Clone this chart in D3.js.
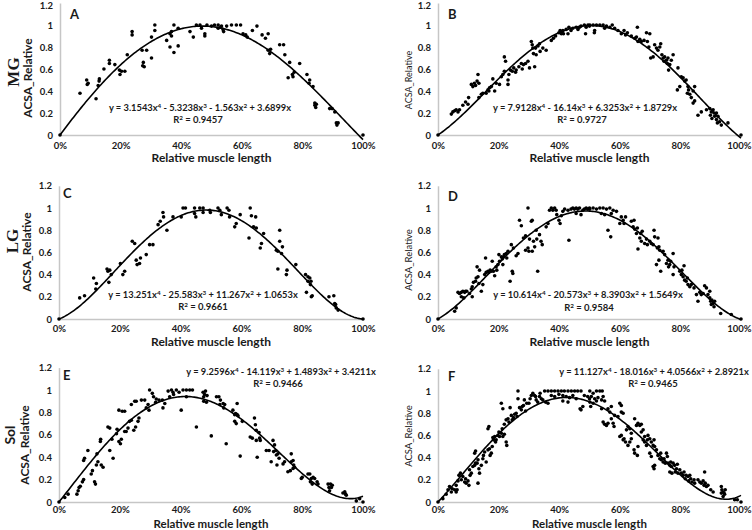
<!DOCTYPE html>
<html><head><meta charset="utf-8">
<script src="https://cdn.jsdelivr.net/npm/d3@7"></script>
<style>body{margin:0;background:#fff} text{white-space:pre}</style>
</head><body><svg id="c" width="752" height="530"></svg>
<script>
const xTicks=[0,20,40,60,80,100];
const yTicks=[0,0.2,0.4,0.6,0.8,1,1.2];
const panelLetters=["A","B","C","D","E","F"];
const rowLabels=["MG","LG","Sol"];
const xTitle="Relative muscle length";
const yTitle="ACSA_Relative";
const coefA=[3.1543,-5.3238,-1.563,3.6899];
const coefB=[7.9128,-16.14,6.3253,1.8729];
const coefC=[13.251,-25.583,11.267,1.0653];
const coefD=[10.614,-20.573,8.3903,1.5649];
const coefE=[9.2596,-14.119,1.4893,3.4211];
const coefF=[11.127,-18.016,4.0566,2.8921];
const r2Values=[0.9457,0.9727,0.9661,0.9584,0.9466,0.9465];

const pointsA=[[0,0],[6.6,0.38],[8.8,0.50],[9,0.46],[9.3,0.47],[11.9,0.33],[12.6,0.45],[12.9,0.49],[13,0.51],[14.5,0.60],[16.3,0.68],[16.3,0.65],[18.1,0.64],[19.6,0.59],[19.8,0.55],[20.3,0.58],[21.4,0.58],[22.2,0.73],[23.8,0.94],[23.8,0.91],[27.1,0.77],[27.5,0.66],[27.3,0.63],[27.8,0.62],[28.6,0.77],[30.2,0.89],[30.2,0.70],[31.3,1.0],[31.3,0.95],[35.2,0.86],[36.3,0.92],[36.3,0.80],[36.8,0.94],[36.8,0.90],[37.6,1.0],[37.6,0.75],[39,0.97],[39,0.81],[42.9,0.94],[44,0.89],[45,1.0],[46.2,1.0],[46.7,0.97],[47.8,0.92],[47.8,0.90],[48.5,1.0],[50,0.99],[51,1.0],[52.2,1.0],[52.2,0.97],[53,0.98],[53.3,0.99],[53.8,0.96],[54,0.94],[55,0.99],[56.6,1.0],[58.2,1.0],[59.6,1.0],[60.4,0.92],[61.3,0.91],[61.8,0.89],[63.5,0.95],[65,0.99],[66.7,0.91],[67.8,0.88],[68.7,0.92],[68.7,0.77],[69.2,0.74],[69.5,0.78],[72.5,0.82],[73.8,0.82],[74.2,0.73],[75.8,0.66],[75.3,0.52],[76.7,0.55],[76.9,0.53],[77.3,0.57],[79.1,0.65],[81.5,0.55],[82.4,0.50],[82.2,0.47],[83.5,0.44],[84.1,0.29],[84.1,0.27],[84.4,0.25],[84.6,0.28],[89,0.24],[89.8,0.24],[90.7,0.21],[91.2,0.11],[91.4,0.09],[91.8,0.11],[100,0]];

const pointsB=[[0,0],[4.4,0.19],[4.9,0.21],[5.5,0.22],[6,0.23],[6.6,0.21],[7.1,0.23],[8.2,0.27],[9.1,0.30],[9.9,0.28],[10.1,0.34],[11,0.46],[11.5,0.44],[12,0.47],[12.4,0.45],[12.9,0.49],[13.2,0.55],[13.5,0.47],[13.5,0.34],[14.3,0.37],[14.8,0.38],[15.9,0.38],[16.5,0.41],[16.8,0.40],[17,0.43],[17.6,0.44],[18.1,0.51],[18.7,0.40],[19.2,0.47],[20.3,0.46],[20.9,0.53],[21.4,0.55],[21.9,0.58],[21.9,0.71],[22.3,0.67],[23.1,0.46],[23.1,0.50],[23.4,0.55],[23.9,0.59],[24.5,0.58],[25,0.61],[25.6,0.57],[25.8,0.59],[26.7,0.62],[27.5,0.65],[27.8,0.60],[28.2,0.64],[28.9,0.65],[29.7,0.67],[30.2,0.61],[30.8,0.85],[31.1,0.82],[31.3,0.79],[31.5,0.74],[32.2,0.79],[32.4,0.73],[31.9,0.62],[33,0.81],[33.5,0.83],[33.7,0.76],[34.6,0.79],[35.7,0.77],[37.4,0.86],[38.1,0.88],[38.8,0.90],[39.9,0.93],[40.3,0.95],[40.7,0.92],[41,0.94],[41.2,0.95],[41.4,0.92],[42.3,0.96],[42.9,0.92],[43.2,0.98],[43.9,0.95],[44.5,0.97],[45.6,0.98],[46.2,0.96],[46.7,0.98],[47.2,0.99],[48.3,1.0],[48.7,0.92],[48.9,0.98],[49.5,1.0],[50,0.99],[50.1,1.0],[51.2,1.0],[51.6,0.93],[51.7,0.95],[52.3,1.0],[53.4,1.0],[54.5,1.0],[55,0.97],[55.6,0.99],[56.7,0.98],[57.5,1.0],[58.3,0.97],[59.4,0.95],[60.5,0.92],[61.4,0.95],[61.9,0.91],[62.5,0.93],[63.8,0.90],[64.9,0.88],[65.5,0.89],[65.8,0.98],[66,0.85],[66.6,0.87],[67.1,0.85],[68,0.86],[68.8,0.93],[69.9,0.92],[69.1,0.85],[69.6,0.80],[71.5,0.82],[72.1,0.79],[72.6,0.77],[70.2,0.70],[71,0.71],[73.2,0.80],[73.5,0.83],[73.9,0.73],[74.3,0.70],[74.6,0.67],[74.8,0.71],[75.4,0.68],[75.7,0.65],[75.9,0.70],[76.5,0.64],[76.1,0.59],[77,0.68],[77.6,0.73],[79.2,0.61],[80.3,0.53],[80.9,0.52],[81.4,0.49],[81.9,0.50],[79,0.41],[79.8,0.44],[82.5,0.44],[82.7,0.41],[83.1,0.37],[83.6,0.34],[82.3,0.38],[84.2,0.29],[84.7,0.31],[84.7,0.44],[84.2,0.40],[85.8,0.18],[86.9,0.21],[88.6,0.23],[89.7,0.24],[90.2,0.21],[90.8,0.23],[91.1,0.20],[91.3,0.17],[89.9,0.18],[90.4,0.15],[91.9,0.14],[92.2,0.11],[92.9,0.12],[93.5,0.09],[91.9,0.20],[92.4,0.17],[95.7,0.11],[100,0]];

const pointsC=[[0,0],[6.8,0.19],[8.4,0.21],[11.4,0.37],[12.3,0.32],[12.1,0.27],[15.8,0.45],[16.1,0.43],[16.4,0.33],[16.7,0.44],[17.2,0.40],[20.2,0.50],[21,0.40],[21.6,0.43],[24.1,0.70],[24.9,0.68],[25.4,0.53],[25.7,0.49],[26.5,0.50],[26.8,0.55],[28.7,0.58],[29.8,0.67],[30.9,0.67],[32.6,0.85],[33.3,0.88],[34.2,0.96],[34.4,0.92],[35.5,0.80],[37.5,0.92],[40.2,0.92],[40.8,1.0],[41.6,1.0],[44.6,1.0],[44.6,0.95],[45,0.92],[46.3,1.0],[47.4,1.0],[47.4,0.96],[49.6,0.98],[49.8,0.96],[52.3,1.0],[52.9,0.98],[53.4,0.94],[55.3,1.0],[55.9,0.98],[56.1,0.92],[57.8,0.83],[58.3,0.86],[59.6,0.94],[62.5,0.73],[62.9,1.0],[63.3,0.93],[64.7,0.92],[64,0.83],[64.9,0.82],[66.2,0.64],[66.6,0.68],[67.3,0.77],[71.5,0.62],[72,0.61],[72.6,0.80],[72.6,0.70],[72,0.45],[73.2,0.59],[73.5,0.65],[74.8,0.40],[75,0.44],[77.9,0.49],[81.1,0.40],[81.9,0.38],[82.5,0.37],[82.7,0.31],[81.9,0.34],[82.9,0.34],[81.4,0.24],[83,0.20],[83.3,0.21],[88.8,0.20],[90.4,0.21],[90.7,0.14],[91,0.13],[91.2,0.10],[91.8,0.08],[100,0]];

const pointsD=[[0,0],[5.5,0.07],[6,0.10],[6.6,0.24],[7.1,0.23],[7.7,0.24],[8.2,0.25],[8.8,0.24],[9.1,0.25],[9.5,0.25],[8.5,0.19],[7.7,0.20],[10.4,0.23],[11,0.27],[11.3,0.29],[11.7,0.33],[11.3,0.20],[12.4,0.34],[12.6,0.37],[13.2,0.38],[12.9,0.47],[13.7,0.44],[13.5,0.32],[14.3,0.25],[14.8,0.31],[15.4,0.40],[15.9,0.42],[15.7,0.55],[16.5,0.43],[16.8,0.42],[17.2,0.44],[17.6,0.43],[17.9,0.52],[18.3,0.43],[18.7,0.39],[19.2,0.47],[19.4,0.44],[19.8,0.49],[20.1,0.58],[20.3,0.52],[20.9,0.56],[21.2,0.54],[21.4,0.49],[21.6,0.56],[21.9,0.58],[22.5,0.59],[23.1,0.61],[22.7,0.55],[23.8,0.34],[24.5,0.43],[24.7,0.41],[24.2,0.67],[24.9,0.64],[25.8,0.57],[26.4,0.59],[26.9,0.89],[27.5,0.84],[28.2,0.73],[28.9,0.75],[29.7,1.0],[30.2,0.72],[30.8,0.88],[31.1,0.89],[28.9,0.62],[29.7,0.64],[30,0.61],[31.1,0.61],[31.5,0.70],[31.9,0.65],[32.4,0.80],[32.6,0.72],[32.9,0.43],[34,0.70],[34.4,0.67],[33.5,0.76],[35.7,0.83],[36.3,0.86],[36.8,0.98],[37.4,1.0],[37.9,0.98],[38.5,1.0],[39,0.98],[39.2,0.94],[39.9,0.89],[40.3,0.86],[40.7,0.93],[41.2,0.97],[41.8,0.99],[43.2,0.71],[42.9,0.98],[43.9,0.99],[44.5,1.0],[45,0.99],[45.6,1.0],[46.1,0.99],[46.7,1.0],[45.6,0.95],[47.2,0.94],[47.8,0.98],[48.3,0.99],[48.9,1.0],[49.4,0.99],[50,1.0],[50.1,0.99],[51.2,1.0],[52.3,0.99],[53.4,1.0],[54.5,1.0],[55.6,0.99],[56.7,1.0],[57.8,0.98],[53.9,0.95],[55,0.94],[57.2,0.95],[56.1,0.80],[57,0.74],[58.9,0.97],[60.5,0.92],[61.1,0.89],[61.4,0.86],[60,0.86],[61.9,0.92],[63.8,0.88],[64.4,0.83],[64.7,0.89],[64.9,0.81],[65.5,0.77],[65.8,0.82],[66.6,0.73],[66.9,0.77],[67.1,0.70],[66,0.63],[67.4,0.79],[68.2,0.68],[68.8,0.72],[69.1,0.67],[69.9,0.70],[70.4,0.68],[71,0.67],[71.3,0.80],[71.5,0.74],[72.4,0.64],[72.9,0.65],[73.2,0.62],[72.6,0.73],[72.1,0.49],[73.5,0.43],[72.9,0.53],[74.3,0.61],[74.8,0.58],[75.4,0.50],[75.9,0.53],[76.5,0.49],[76.8,0.52],[76.1,0.47],[77.6,0.59],[77.9,0.47],[77.6,0.40],[79.8,0.43],[80.3,0.40],[80.5,0.44],[80.9,0.38],[81.2,0.48],[81.4,0.35],[81.9,0.34],[82.3,0.37],[82.5,0.31],[83.1,0.29],[83.6,0.31],[84.5,0.28],[85.3,0.22],[85.8,0.16],[86.4,0.24],[86.9,0.22],[87.5,0.23],[88,0.30],[88.6,0.28],[89.1,0.22],[89.7,0.19],[90,0.16],[90.2,0.13],[90.4,0.17],[90.8,0.14],[91.1,0.11],[91.3,0.16],[89.7,0.25],[93.3,0.05],[96.8,0.04],[100,0]];

const pointsE=[[0,0],[1.9,0.04],[3,0.07],[5.9,0.07],[6.3,0.10],[6.6,0.13],[7,0.14],[7.7,0.18],[8.1,0.20],[8.1,0.37],[8.4,0.39],[9.5,0.46],[10.6,0.25],[11,0.28],[11.7,0.18],[12,0.16],[12.3,0.33],[12.5,0.43],[12.8,0.36],[13.6,0.54],[13.7,0.56],[13.9,0.33],[14.5,0.31],[16.1,0.67],[16.7,0.66],[16.7,0.46],[17.4,0.56],[17.8,0.39],[18.9,0.61],[19.1,0.65],[19.7,0.54],[20.2,0.52],[20.5,0.56],[19.7,0.82],[20.8,0.81],[21.6,0.81],[21.6,0.63],[22.1,0.63],[22.7,0.66],[23.2,0.72],[23.8,0.73],[23.8,0.87],[24.9,0.90],[25.4,0.90],[24.6,0.64],[25.2,0.67],[26,0.72],[26.3,0.75],[27.1,0.91],[28.2,0.91],[28.7,0.84],[29.3,0.87],[29.6,0.82],[29.8,1.0],[30.7,0.97],[31.1,0.94],[31.8,0.89],[32,0.92],[32.9,0.91],[34,0.91],[34.2,0.84],[34.8,0.88],[35.9,0.99],[36.4,0.94],[37,1.0],[37.5,0.98],[37.7,0.96],[38.6,1.0],[39.5,0.98],[40.2,0.82],[40.8,1.0],[41.9,1.0],[43,1.0],[43.9,1.0],[41.9,0.94],[45.2,0.67],[47.4,0.98],[47.9,0.96],[48.2,0.99],[48.7,0.95],[47.6,0.94],[47.6,0.90],[48.5,0.89],[50.1,0.59],[51.8,0.94],[52.6,0.94],[53.1,0.91],[52.9,0.87],[54,0.88],[54.2,0.84],[54.5,0.87],[55,0.52],[57.2,0.82],[57.8,0.78],[58.1,0.79],[58.6,0.78],[58.9,0.77],[57.8,0.72],[58.3,0.70],[58.6,0.88],[60.3,0.72],[59.6,0.41],[62.9,0.58],[63.6,0.57],[64.3,0.75],[64.6,0.69],[64.9,0.64],[64.9,0.55],[65.2,0.40],[65.8,0.62],[66,0.57],[66.2,0.55],[68.2,0.46],[69.1,0.46],[69.8,0.36],[70.4,0.55],[70.9,0.51],[70.6,0.45],[71.3,0.46],[71.5,0.42],[72,0.43],[71.7,0.33],[72.4,0.39],[73.7,0.34],[74.2,0.36],[75.3,0.27],[76.1,0.28],[76.4,0.43],[76.4,0.36],[77,0.37],[77.2,0.33],[77.5,0.31],[77,0.30],[79.7,0.21],[80,0.22],[81.9,0.25],[82.5,0.25],[82.7,0.18],[83,0.21],[83.6,0.22],[83.3,0.16],[84.1,0.21],[84.9,0.18],[85.2,0.16],[88.5,0.16],[88.8,0.13],[89.3,0.16],[89.6,0.13],[89.9,0.15],[89,0.10],[93.4,0.08],[94,0.09],[94.3,0.07],[94.5,0.06],[97.8,0.01],[98.9,0.03],[100,0]];

const pointsF=[[0,0],[1.6,0.03],[2.7,0.07],[3.3,0.11],[3.8,0.14],[4.4,0.09],[4.7,0.12],[5.5,0.11],[6,0.09],[6.3,0.11],[6,0.15],[6.6,0.19],[6.9,0.24],[7.4,0.26],[7.7,0.20],[8.2,0.23],[8.8,0.18],[9.1,0.21],[9.3,0.17],[9.9,0.19],[10.2,0.15],[10.6,0.24],[11,0.26],[10.4,0.29],[11.5,0.32],[12.1,0.33],[12.4,0.35],[12.9,0.35],[13.2,0.38],[12.1,0.44],[12.4,0.46],[13.2,0.17],[13.5,0.30],[13.7,0.26],[14.3,0.33],[14.8,0.39],[15,0.42],[15.4,0.45],[15.9,0.36],[16.5,0.47],[17,0.48],[16.5,0.66],[16.8,0.68],[17.2,0.42],[17.6,0.44],[17.9,0.50],[18.1,0.58],[18.3,0.56],[18.7,0.59],[19,0.54],[19.2,0.56],[19.8,0.60],[20.1,0.63],[20.3,0.59],[20.9,0.62],[21.2,0.66],[20.9,0.89],[21.4,0.84],[21.4,0.59],[21.9,0.61],[22.5,0.54],[22.7,0.51],[21.9,0.70],[22.5,0.74],[23.1,0.75],[23.4,0.72],[23.8,0.85],[24.2,0.78],[24.5,0.74],[24.9,0.76],[25.3,0.79],[25.8,0.80],[26.1,0.77],[26.4,1.0],[26.4,0.93],[26.9,0.85],[27.5,0.83],[27.8,0.86],[28.2,0.87],[28.5,0.92],[28.9,0.82],[29.3,0.89],[30,0.89],[30.4,0.93],[30.8,0.96],[31.3,0.98],[31.9,0.96],[32.2,0.95],[32.4,0.92],[32.9,0.90],[33.5,0.95],[34.1,0.93],[34.6,0.92],[33.7,0.98],[35.2,1.0],[36.3,1.0],[37.4,1.0],[38.5,1.0],[39.6,1.0],[40.7,1.0],[36.3,0.89],[35.5,0.90],[37.4,0.96],[38.5,0.95],[39.9,0.97],[41.2,0.96],[41.7,1.0],[42.9,1.0],[44,1.0],[45.1,1.0],[46.1,1.0],[47.2,1.0],[42.3,0.95],[43.4,0.94],[44.5,0.96],[45.6,0.93],[41.2,0.91],[42.9,0.90],[46.9,0.84],[47.2,0.83],[47.8,0.86],[48.3,0.96],[49.4,0.95],[50,0.93],[50.1,1.0],[51.2,0.98],[52.3,1.0],[53.4,1.0],[54.2,1.0],[50.6,0.95],[51.7,0.93],[50.1,0.90],[51.2,0.89],[52.3,0.91],[50.4,0.86],[52.8,0.94],[54,0.92],[54.5,0.95],[54,0.84],[55,0.91],[56.1,0.84],[56.7,0.81],[57.2,0.86],[54.5,0.72],[55,0.70],[55.6,0.69],[56.1,0.71],[57.2,0.75],[57.8,0.71],[58.1,0.68],[58.3,0.78],[59.4,0.77],[60,0.89],[60.5,0.87],[60.5,0.81],[61.1,0.80],[60,0.59],[60.5,0.60],[61.1,0.56],[61.4,0.57],[61.9,0.54],[62.2,0.65],[62.7,0.68],[63.3,0.66],[63.8,0.62],[62.7,0.51],[63.3,0.54],[63.8,0.57],[64.9,0.75],[65.5,0.69],[66,0.71],[66.6,0.69],[67.1,0.70],[64.7,0.47],[64.9,0.44],[65.8,0.42],[66,0.50],[67.1,0.63],[67.7,0.65],[68.2,0.59],[67.7,0.56],[68.2,0.54],[68.8,0.51],[69.1,0.56],[69.3,0.60],[69.9,0.57],[70.4,0.54],[71,0.51],[71.5,0.50],[72.1,0.47],[71.3,0.56],[69.9,0.44],[70.4,0.41],[71,0.32],[71.3,0.30],[71.5,0.33],[72.6,0.42],[73.2,0.39],[73.5,0.44],[73.7,0.38],[74.3,0.36],[74.6,0.39],[75,0.35],[75.4,0.44],[75.7,0.41],[75.9,0.35],[76.5,0.33],[76.8,0.36],[77,0.32],[76.5,0.27],[77.2,0.26],[77.6,0.35],[78.1,0.33],[78.7,0.30],[79,0.34],[78.3,0.27],[79.2,0.26],[79.8,0.29],[80.3,0.26],[80.9,0.24],[81.2,0.27],[81.6,0.21],[81.9,0.24],[82.5,0.23],[82.7,0.19],[83.1,0.24],[83.4,0.21],[83.8,0.18],[84.5,0.20],[84.7,0.17],[88,0.27],[85.8,0.20],[86.4,0.18],[86.9,0.17],[87.5,0.19],[87.8,0.15],[88.2,0.17],[88.6,0.14],[89.1,0.15],[90,0.11],[90.8,0.09],[93.5,0.14],[93.7,0.11],[94.1,0.09],[94.4,0.08],[94.1,0.05],[94.6,0.07],[93.5,0.08],[94.8,0.11],[97.9,0.02],[98.8,0.02],[100,0]];

const allPoints=[pointsA,pointsB,pointsC,pointsD,pointsE,pointsF];
const allCoefs=[coefA,coefB,coefC,coefD,coefE,coefF];

// layout (positions only)
const layout=[
 {x0:60,x1:363,y0:135,y1:25,eq:[200,111],r2:[198,123],let:[70,18.5],yt:[28,78],ytBold:true,ytSize:12,tt:27,tp:7,ts:12,topDy:2,endDx:0},
 {x0:438,x1:741,y0:135,y1:25,eq:[585,111],r2:[582,123],let:[448,18.5],yt:[409,80],ytBold:false,ytSize:9,tt:27,tp:7,ts:12,topDy:2,endDx:-2},
 {x0:59,x1:363,y0:319,y1:208,eq:[203,298],r2:[203,310],let:[63,198],yt:[27,252],ytBold:true,ytSize:12,tt:27,tp:6,ts:12,topDy:0,endDx:0},
 {x0:438,x1:741,y0:319,y1:208,eq:[588,298],r2:[589,311],let:[448,201],yt:[409,260],ytBold:false,ytSize:9.5,tt:27,tp:6,ts:12,topDy:0,endDx:-2},
 {x0:59,x1:363,y0:502,y1:390,eq:[281,375],r2:[278,387],let:[63,380],yt:[25,445],ytBold:true,ytSize:12,tt:25.5,tp:4.5,ts:11.5,topDy:0,endDx:0},
 {x0:438,x1:741,y0:502,y1:391,eq:[654,375],r2:[653,387],let:[448,381],yt:[409,436],ytBold:false,ytSize:9.5,tt:25.5,tp:4.5,ts:11.5,topDy:0,endDx:-2}
];
const rowLayout=[{x:13,y:72,font:"'Liberation Serif','Times New Roman',serif",size:17},
                 {x:12,y:241,font:"'Liberation Serif','Times New Roman',serif",size:17},
                 {x:10,y:435,font:"Lato,'Open Sans',sans-serif",size:14}];

const FONT="Lato,'Open Sans','Liberation Sans',sans-serif";
const TXT="#1a1a1a";
const svg=d3.select("#c");

function poly(c,t){return c[0]*t**4+c[1]*t**3+c[2]*t**2+c[3]*t;}

layout.forEach((p,i)=>{
  const x=d3.scaleLinear().domain([0,100]).range([p.x0,p.x1]);
  const y=d3.scaleLinear().domain([0,1.2]).range([p.y0,p.y0-1.2*(p.y0-p.y1)]);
  const g=svg.append("g");
  const ya=g.append("g").attr("transform",`translate(${p.x0},0)`)
    .call(d3.axisLeft(y).tickValues(yTicks).tickSize(0).tickPadding(7).tickFormat(d=>String(+d.toFixed(1))));
  const xa=g.append("g").attr("transform",`translate(0,${p.y0})`)
    .call(d3.axisBottom(x).tickValues(xTicks).tickSize(0).tickPadding(p.tp).tickFormat(d=>d+"%"));
  [ya,xa].forEach(a=>{
    a.select(".domain").attr("stroke","#c6c6c6").attr("stroke-width",1.5);
    a.selectAll("text").attr("font-family",FONT).attr("font-weight","bold").attr("font-size",9.5).attr("fill",TXT);
  });
  // keep edge labels inside the picture
  ya.selectAll(".tick").filter(d=>d===1.2).select("text").attr("transform",`translate(0,${p.topDy})`);
  xa.selectAll(".tick").filter(d=>d===100).select("text").attr("transform",`translate(${p.endDx},0)`);
  // points
  g.append("g").selectAll("circle").data(allPoints[i]).join("circle")
    .attr("cx",d=>x(d[0])).attr("cy",d=>y(d[1])).attr("r",1.8).attr("fill","#000");
  // trendline
  const c=allCoefs[i];
  const ts=d3.range(0,1.0001,0.005);
  g.append("path").datum(ts).attr("fill","none").attr("stroke","#000").attr("stroke-width",1.6)
    .attr("d",d3.line().x(t=>x(t*100)).y(t=>y(poly(c,t))));
  // equation
  const eq=g.append("text").attr("x",p.eq[0]).attr("y",p.eq[1]).attr("text-anchor","middle")
    .attr("font-family",FONT).attr("font-weight","bold").attr("font-size",9.3).attr("fill",TXT);
  const pw=[4,3,2,1];
  c.forEach((v,k)=>{
    const pre = k===0 ? "y = "+(v<0?"-":"") : (v<0?" - ":" + ");
    eq.append("tspan").text(pre+String(Math.abs(v))+"x");
    if(pw[k]>1) eq.append("tspan").attr("baseline-shift","super").attr("font-size",6.3).text(String(pw[k]));
  });
  const r=g.append("text").attr("x",p.r2[0]).attr("y",p.r2[1]).attr("text-anchor","middle")
    .attr("font-family",FONT).attr("font-weight","bold").attr("font-size",9.5).attr("fill",TXT);
  r.append("tspan").text("R");
  r.append("tspan").attr("baseline-shift","super").attr("font-size",6.3).text("2");
  r.append("tspan").text(" = "+r2Values[i]);
  // letter
  g.append("text").attr("x",p.let[0]).attr("y",p.let[1]).attr("font-family",FONT).attr("font-weight","bold")
    .attr("font-size",13).attr("fill",TXT).text(panelLetters[i]);
  // x title
  g.append("text").attr("x",(p.x0+p.x1)/2).attr("y",p.y0+p.tt).attr("text-anchor","middle")
    .attr("font-family",FONT).attr("font-weight","bold").attr("font-size",p.ts).attr("fill",TXT).text(xTitle);
  // y title
  g.append("text").attr("transform",`translate(${p.yt[0]},${p.yt[1]}) rotate(-90)`).attr("text-anchor","middle")
    .attr("dy","0.35em").attr("font-family",FONT).attr("font-weight",p.ytBold?"bold":"normal")
    .attr("font-size",p.ytSize).attr("fill",TXT).text(yTitle);
});

rowLayout.forEach((r,i)=>{
  svg.append("text").attr("transform",`translate(${r.x},${r.y}) rotate(-90)`).attr("text-anchor","middle")
    .attr("dy","0.35em").attr("font-family",r.font).attr("font-weight","bold").attr("font-size",r.size)
    .attr("fill",TXT).text(rowLabels[i]);
});
</script></body></html>
